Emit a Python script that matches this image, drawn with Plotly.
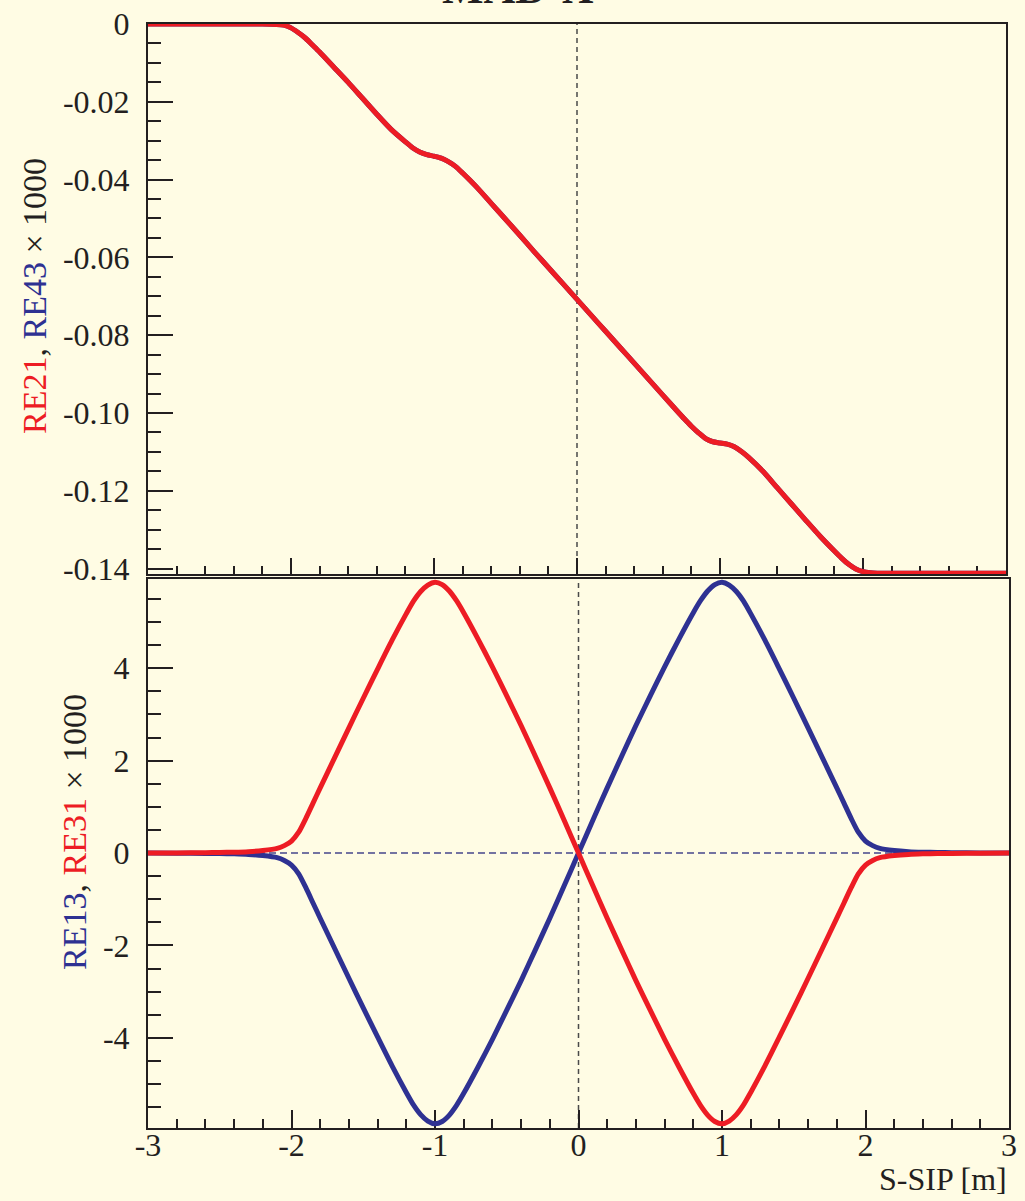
import numpy as np
import plotly.graph_objects as go

# ---- data -------------------------------------------------------------
# longitudinal position relative to the IP [m]
s_top = [-3.0, -2.6, -2.2, -2.1, -2.05, -2.0, -1.95, -1.9, -1.85, -1.8, -1.7, -1.6,
         -1.5, -1.4, -1.3, -1.2, -1.15, -1.1, -1.05, -1.0, -0.95, -0.9, -0.85, -0.8,
         -0.75, -0.7, -0.6, -0.5, -0.4, -0.3, -0.2, -0.1, 0.0, 0.1, 0.2, 0.3, 0.4,
         0.5, 0.6, 0.7, 0.75, 0.8, 0.85, 0.9, 0.95, 1.0, 1.05, 1.1, 1.15, 1.2, 1.3,
         1.4, 1.5, 1.6, 1.7, 1.8, 1.85, 1.9, 1.95, 2.0, 2.05, 2.1, 2.2, 2.6, 3.0]

# RE21 (x1000)
re21 = [0.0, 0.0, 0.0, -0.0001, -0.0003, -0.0010, -0.0022, -0.0036, -0.0054, -0.0072,
        -0.0111, -0.0150, -0.0191, -0.0232, -0.0271, -0.0303, -0.0318, -0.0329, -0.0336,
        -0.0340, -0.0345, -0.0354, -0.0366, -0.0383, -0.0401, -0.0420, -0.0461, -0.0502,
        -0.0543, -0.0585, -0.0626, -0.0667, -0.0708, -0.0749, -0.0790, -0.0831, -0.0872,
        -0.0913, -0.0954, -0.0995, -0.1015, -0.1034, -0.1051, -0.1066, -0.1074, -0.1077,
        -0.1080, -0.1087, -0.1099, -0.1114, -0.1150, -0.1192, -0.1234, -0.1276, -0.1317,
        -0.1355, -0.1373, -0.1389, -0.1401, -0.1408, -0.1411, -0.1412, -0.1412, -0.1412,
        -0.1412]

# RE43 (x1000) coincides with RE21
re43 = list(re21)

s_bot = [-3.0, -2.8, -2.6, -2.5, -2.4, -2.3, -2.2, -2.1, -2.05, -2.0, -1.95, -1.9,
         -1.85, -1.8, -1.7, -1.6, -1.5, -1.4, -1.3, -1.2, -1.15, -1.1, -1.05, -1.0,
         -0.95, -0.9, -0.85, -0.8, -0.7, -0.6, -0.5, -0.4, -0.3, -0.2, -0.1, 0.0,
         0.1, 0.2, 0.3, 0.4, 0.5, 0.6, 0.7, 0.8, 0.85, 0.9, 0.95, 1.0, 1.05, 1.1,
         1.15, 1.2, 1.3, 1.4, 1.5, 1.6, 1.7, 1.8, 1.85, 1.9, 1.95, 2.0, 2.05, 2.1,
         2.2, 2.3, 2.4, 2.5, 2.6, 2.8, 3.0]

# RE31 (x1000)
re31 = [0.0, 0.003, 0.008, 0.012, 0.018, 0.03, 0.055, 0.10, 0.16, 0.26, 0.45, 0.75,
        1.08, 1.41, 2.06, 2.71, 3.35, 3.98, 4.60, 5.18, 5.45, 5.66, 5.80, 5.86,
        5.81, 5.67, 5.46, 5.20, 4.63, 4.03, 3.40, 2.76, 2.09, 1.41, 0.71, 0.0,
        -0.71, -1.41, -2.09, -2.76, -3.40, -4.03, -4.63, -5.20, -5.46, -5.67, -5.81,
        -5.86, -5.80, -5.66, -5.45, -5.18, -4.60, -3.98, -3.35, -2.71, -2.06, -1.41,
        -1.08, -0.75, -0.45, -0.26, -0.16, -0.10, -0.055, -0.03, -0.018, -0.012,
        -0.008, -0.003, 0.0]

# RE13 (x1000)
re13 = [0.0, -0.003, -0.008, -0.012, -0.018, -0.03, -0.055, -0.10, -0.16, -0.26, -0.45,
        -0.75, -1.08, -1.41, -2.06, -2.71, -3.35, -3.98, -4.60, -5.18, -5.45, -5.66,
        -5.80, -5.86, -5.81, -5.67, -5.46, -5.20, -4.63, -4.03, -3.40, -2.76, -2.09,
        -1.41, -0.71, 0.0, 0.71, 1.41, 2.09, 2.76, 3.40, 4.03, 4.63, 5.20, 5.46, 5.67,
        5.81, 5.86, 5.80, 5.66, 5.45, 5.18, 4.60, 3.98, 3.35, 2.71, 2.06, 1.41, 1.08,
        0.75, 0.45, 0.26, 0.16, 0.10, 0.055, 0.03, 0.018, 0.012, 0.008, 0.003, 0.0]

x_ticks = [-3, -2, -1, 0, 1, 2, 3]
x_ticktext = ["-3", "-2", "-1", "0", "1", "2", "3"]
top_yticks = [0, -0.02, -0.04, -0.06, -0.08, -0.10, -0.12, -0.14]
top_yticktext = ["0", "-0.02", "-0.04", "-0.06", "-0.08", "-0.10", "-0.12", "-0.14"]
bot_yticks = [4, 2, 0, -2, -4]
bot_yticktext = ["4", "2", "0", "-2", "-4"]

# ---- style ------------------------------------------------------------
W, H = 1025, 1201
BG = "#fffce4"
INK = "#231f20"
RED = "#ed1c24"
BLUE = "#2e3192"
FONT = "Liberation Serif"

def px_x(p):
    return p / W

def px_y(p):
    return 1 - p / H

fig = go.Figure()

curve = dict(width=5, shape="spline", smoothing=0.7)
fig.add_trace(go.Scatter(x=s_top, y=re43, mode="lines", line=dict(curve, color=BLUE),
                         xaxis="x", yaxis="y", showlegend=False))
fig.add_trace(go.Scatter(x=s_top, y=re21, mode="lines", line=dict(curve, color=RED),
                         xaxis="x", yaxis="y", showlegend=False))
fig.add_trace(go.Scatter(x=s_bot, y=re13, mode="lines", line=dict(curve, color=BLUE),
                         xaxis="x2", yaxis="y2", showlegend=False))
fig.add_trace(go.Scatter(x=s_bot, y=re31, mode="lines", line=dict(curve, color=RED),
                         xaxis="x2", yaxis="y2", showlegend=False))

tickfont = dict(family=FONT, size=32, color=INK)

common_x = dict(range=[-3, 3], showline=True, mirror=True, linecolor=INK, linewidth=2,
                ticks="inside", tickcolor=INK, tickwidth=2, showgrid=False, zeroline=False,
                tickmode="array", tickvals=x_ticks, layer="below traces", automargin=False)
common_y = dict(showline=True, mirror=True, linecolor=INK, linewidth=2,
                ticks="inside", tickcolor=INK, tickwidth=2, showgrid=False, zeroline=False,
                tickmode="array", tickfont=tickfont, layer="below traces", automargin=False,
                ticklabelstandoff=10)

top_dom_y = [px_y(574), px_y(24)]
bot_dom_y = [px_y(1128), px_y(579)]

fig.update_layout(
    width=W, height=H,
    margin=dict(l=0, r=0, t=0, b=0),
    paper_bgcolor=BG, plot_bgcolor=BG,
    xaxis=dict(common_x, domain=[px_x(148), px_x(1006)], anchor="y",
               ticklen=16, showticklabels=False,
               minor=dict(ticks="inside", ticklen=8, tickcolor=INK, tickwidth=2,
                          tickmode="array", tickvals=list(np.round(np.arange(-3, 3.01, 0.2), 2)))),
    yaxis=dict(common_y, domain=top_dom_y, anchor="x", range=[-0.1414, 0.0],
               tickvals=top_yticks, ticktext=top_yticktext, ticklen=25,
               minor=dict(ticks="inside", ticklen=13, tickcolor=INK, tickwidth=2,
                          tickmode="array", tickvals=list(np.round(np.arange(-0.14, 0.001, 0.005), 4)))),
    xaxis2=dict(common_x, domain=[px_x(148), px_x(1009)], anchor="y2",
                ticklen=18, tickfont=tickfont, ticktext=x_ticktext, ticklabelstandoff=-12,
                minor=dict(ticks="inside", ticklen=9, tickcolor=INK, tickwidth=2,
                           tickmode="array", tickvals=list(np.round(np.arange(-3, 3.01, 0.2), 2)))),
    yaxis2=dict(common_y, domain=bot_dom_y, anchor="x2", range=[-5.95, 5.93],
                tickvals=bot_yticks, ticktext=bot_yticktext, ticklen=25,
                minor=dict(ticks="inside", ticklen=13, tickcolor=INK, tickwidth=2,
                           tickmode="array", tickvals=list(np.round(np.arange(-5.5, 5.51, 0.5), 2)))),
)

# dashed reference lines at s = 0 and RE = 0
fig.add_shape(type="line", xref="x", yref="y domain", x0=0, x1=0, y0=0, y1=1,
              line=dict(color="#4a4a4a", width=1.5, dash="5px,4px"), layer="below")
fig.add_shape(type="line", xref="x2", yref="y2 domain", x0=0, x1=0, y0=0, y1=1,
              line=dict(color="#4a4a4a", width=1.5, dash="5px,4px"), layer="below")
fig.add_shape(type="line", xref="x2 domain", yref="y2", x0=0, x1=1, y0=0, y1=0,
              line=dict(color="#46468a", width=1.5, dash="7px,4px"), layer="below")

# axis titles
title_font = dict(family=FONT, size=34, color=INK)
fig.add_annotation(
    text=f"<span style='color:{RED}'>RE21</span>, <span style='color:{BLUE}'>RE43</span> × 1000",
    xref="paper", yref="paper", x=px_x(34), y=px_y(296), textangle=-90,
    showarrow=False, font=title_font, xanchor="center", yanchor="middle")
fig.add_annotation(
    text=f"<span style='color:{BLUE}'>RE13</span>, <span style='color:{RED}'>RE31</span> × 1000",
    xref="paper", yref="paper", x=px_x(74), y=px_y(832), textangle=-90,
    showarrow=False, font=title_font, xanchor="center", yanchor="middle")
fig.add_annotation(
    text="S-SIP [m]", xref="paper", yref="paper", x=px_x(1009), y=px_y(1179),
    showarrow=False, font=dict(family=FONT, size=32, color=INK), xanchor="right", yanchor="middle")
fig.add_annotation(
    text="<b>MAD-X</b>", xref="paper", yref="paper", x=px_x(518), y=px_y(15),
    showarrow=False, font=dict(family=FONT, size=44, color=INK),
    xanchor="center", yanchor="bottom")

fig.write_html("out.html")
